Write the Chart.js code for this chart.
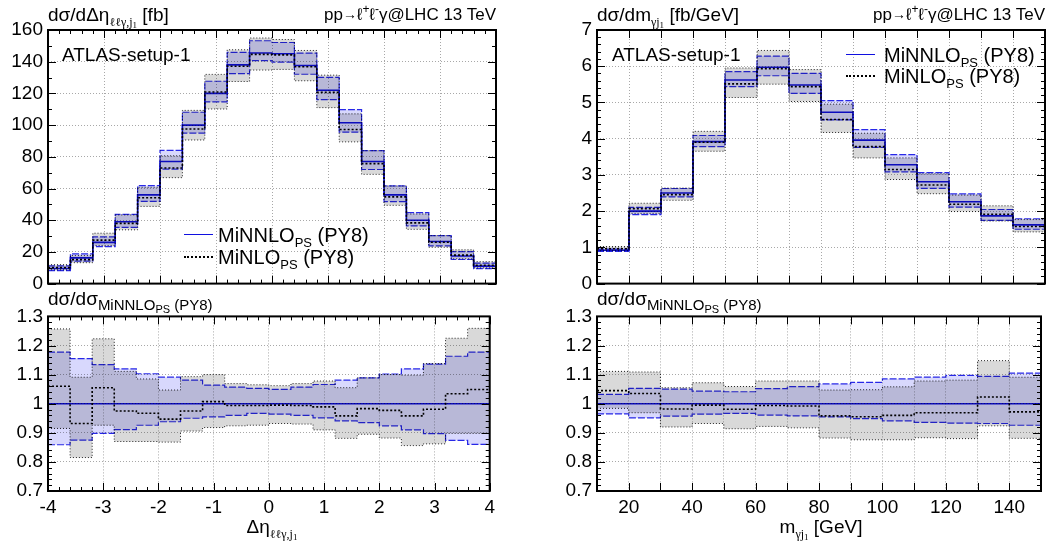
<!DOCTYPE html>
<html>
<head>
<meta charset="utf-8">
<script src="https://cdn.jsdelivr.net/npm/chart.js@4.4.1/dist/chart.umd.min.js"></script>
<style>
    body { margin: 0; background: #fff; width: 1046px; height: 547px; overflow: hidden; position: relative;
           font-family: "Liberation Sans", Arial, Helvetica, sans-serif; color: #000; }
    canvas { position: absolute; }
    .t { position: absolute; white-space: nowrap; font-size: 19px; line-height: 1; transform: translateY(-50%); }
    .r { transform: translate(-100%, -50%); }
    .c { transform: translate(-50%, -50%); }
    .s { font-size: 12px; position: relative; top: 5px; font-family: "Liberation Serif", "DejaVu Serif", serif; }
    .s .s { font-size: 9px; top: 2px; }
    .ps { font-size: 13px; position: relative; top: 5px; }
    .sp { font-size: 12px; position: relative; top: -7px; }
    .ar { font-size: 14px; position: relative; top: -1px; }
    .leg { font-size: 20px; }
    .ln { position: absolute; width: 29px; height: 0; }
</style>
</head>
<body>
<canvas id="etaTop" width="500" height="300" style="left:0;top:0"></canvas>
<canvas id="etaRatio" width="500" height="247" style="left:0;top:300px"></canvas>
<canvas id="mTop" width="496" height="300" style="left:550px;top:0"></canvas>
<canvas id="mRatio" width="496" height="247" style="left:550px;top:300px"></canvas>

<div class="t" style="left:48px;top:14px">dσ/dΔη<span class="s">ℓℓγ,j<span class="s">1</span></span> [fb]</div>
<div class="t r" style="left:496px;top:14px;font-size:17px">pp<span class="ar">→</span>ℓ<span class="sp">+</span>ℓ<span class="sp">-</span>γ@LHC 13 TeV</div>
<div class="t" style="left:62px;top:54px">ATLAS-setup-1</div>
<div class="ln" style="left:184px;top:234px;border-top:1.5px solid #1010e0"></div>
<div class="ln" style="left:184px;top:256px;border-top:2px dotted #000"></div>
<div class="t leg" style="left:218px;top:235px">MiNNLO<span class="ps">PS</span> (PY8)</div>
<div class="t leg" style="left:218px;top:257px">MiNLO<span class="ps">PS</span> (PY8)</div>
<div class="t" style="left:48px;top:298px">dσ/dσ<span class="ps" style="font-size:15px">MiNNLO<span class="ps" style="font-size:11px;top:3px">PS</span> (PY8)</span></div>
<div class="t c" style="left:272px;top:526px">Δη<span class="s">ℓℓγ,j<span class="s">1</span></span></div>

<div class="t" style="left:597px;top:14px">dσ/dm<span class="s">γj<span class="s">1</span></span> [fb/GeV]</div>
<div class="t r" style="left:1045px;top:14px;font-size:17px">pp<span class="ar">→</span>ℓ<span class="sp">+</span>ℓ<span class="sp">-</span>γ@LHC 13 TeV</div>
<div class="t" style="left:612px;top:54px">ATLAS-setup-1</div>
<div class="ln" style="left:846px;top:54px;border-top:1.5px solid #1010e0"></div>
<div class="ln" style="left:846px;top:75px;border-top:2px dotted #000"></div>
<div class="t leg" style="left:884px;top:55px">MiNNLO<span class="ps">PS</span> (PY8)</div>
<div class="t leg" style="left:884px;top:76px">MiNLO<span class="ps">PS</span> (PY8)</div>
<div class="t" style="left:597px;top:298px">dσ/dσ<span class="ps" style="font-size:15px">MiNNLO<span class="ps" style="font-size:11px;top:3px">PS</span> (PY8)</span></div>
<div class="t c" style="left:821px;top:526px">m<span class="s">γj<span class="s">1</span></span> [GeV]</div>

<script>
// Δη(ℓℓγ, j1) distribution, 20 bins of 0.4
const etaEdges = [-4, -3.6, -3.2, -2.8, -2.4, -2, -1.6, -1.2, -0.8, -0.4, 0, 0.4, 0.8, 1.2, 1.6, 2, 2.4, 2.8, 3.2, 3.6, 4];
const etaMinnlo = [9.5, 16.2, 26, 39, 56, 77, 100, 120, 138, 145.5, 145, 137.6, 122, 101.5, 77, 56, 40, 26.6, 17.4, 11];
// ratios to MiNNLO central
const etaMinnloUp = [1.177, 1.155, 1.134, 1.12, 1.103, 1.091, 1.081, 1.064, 1.057, 1.053, 1.049, 1.057, 1.066, 1.081, 1.089, 1.102, 1.12, 1.136, 1.163, 1.177];
const etaMinnloDn = [0.859, 0.875, 0.898, 0.911, 0.926, 0.938, 0.95, 0.955, 0.96, 0.967, 0.964, 0.96, 0.951, 0.941, 0.935, 0.924, 0.91, 0.897, 0.874, 0.86];
const etaMinlo = [1.06, 0.932, 1.055, 0.975, 0.967, 0.947, 0.975, 1.007, 0.994, 0.994, 0.995, 0.994, 0.989, 0.958, 0.983, 0.977, 0.958, 0.981, 1.034, 1.049];
const etaMinloUp = [1.257, 1.091, 1.223, 1.111, 1.085, 1.047, 1.093, 1.1, 1.069, 1.065, 1.062, 1.069, 1.078, 1.055, 1.089, 1.1, 1.098, 1.138, 1.225, 1.259];
const etaMinloDn = [0.915, 0.815, 0.926, 0.87, 0.87, 0.868, 0.906, 0.918, 0.924, 0.926, 0.932, 0.93, 0.91, 0.881, 0.895, 0.882, 0.856, 0.862, 0.898, 0.898];

// m(γ j1) distribution, 14 bins of 10 GeV
const mEdges = [10, 20, 30, 40, 50, 60, 70, 80, 90, 100, 110, 120, 130, 140, 150];
const mMinnlo = [0.92, 2.0, 2.5, 3.92, 5.62, 5.97, 5.48, 4.73, 3.96, 3.28, 2.81, 2.26, 1.87, 1.62];
const mMinnloUp = [1.032, 1.053, 1.05, 1.043, 1.041, 1.052, 1.059, 1.068, 1.073, 1.085, 1.091, 1.097, 1.094, 1.105];
const mMinnloDn = [0.965, 0.951, 0.957, 0.964, 0.967, 0.961, 0.958, 0.955, 0.949, 0.941, 0.936, 0.933, 0.932, 0.926];
const mMinlo = [1.045, 1.035, 0.982, 0.995, 0.981, 0.994, 0.992, 0.958, 0.955, 0.96, 0.969, 0.969, 1.023, 0.972];
const mMinloUp = [1.111, 1.109, 1.055, 1.072, 1.059, 1.078, 1.078, 1.047, 1.048, 1.058, 1.078, 1.081, 1.148, 1.091];
const mMinloDn = [0.984, 0.969, 0.92, 0.932, 0.914, 0.922, 0.917, 0.882, 0.876, 0.876, 0.883, 0.88, 0.924, 0.881];

const BLUE = '#1010e0';
const FONT = { family: '"Liberation Sans", Arial, sans-serif', size: 19 };

function stepPoints(edges, vals, fromZero) {
    const pts = vals.map((v, i) => ({ x: edges[i], y: v }));
    pts.push({ x: edges[edges.length - 1], y: vals[vals.length - 1] });
    if (fromZero) pts.unshift({ x: edges[0], y: 0 });
    return pts;
}

function scaled(base, ratio) {
    return base.map((v, i) => v * ratio[i]);
}

// bands overlap like gnuplot's transparent fills
const multiplyFills = {
    id: 'multiplyFills',
    beforeDatasetsDraw(chart) { chart.ctx.globalCompositeOperation = 'multiply'; },
    afterDatasetsDraw(chart) { chart.ctx.globalCompositeOperation = 'source-over'; }
};

// inward ticks on all four sides + frame
const frameTicks = {
    id: 'frameTicks',
    afterDatasetsDraw(chart, args, opts) {
        const { ctx, chartArea: a, scales: { x, y } } = chart;
        ctx.save();
        ctx.strokeStyle = '#000';
        ctx.lineWidth = 1;
        ctx.beginPath();
        const nx = Math.round((x.max - x.min) / opts.xMinor);
        for (let i = 0; i <= nx; i++) {
            const v = x.min + i * opts.xMinor;
            const len = Math.abs(v / opts.xMajor - Math.round(v / opts.xMajor)) < 1e-6 ? 8 : 4;
            const px = Math.round(x.getPixelForValue(v)) + 0.5;
            ctx.moveTo(px, a.bottom); ctx.lineTo(px, a.bottom - len);
            ctx.moveTo(px, a.top); ctx.lineTo(px, a.top + len);
        }
        const ny = Math.round((y.max - y.min) / opts.yMinor);
        for (let i = 0; i <= ny; i++) {
            const v = y.min + i * opts.yMinor;
            const len = Math.abs(v / opts.yMajor - Math.round(v / opts.yMajor)) < 1e-6 ? 8 : 4;
            const py = Math.round(y.getPixelForValue(v)) + 0.5;
            ctx.moveTo(a.left, py); ctx.lineTo(a.left + len, py);
            ctx.moveTo(a.right, py); ctx.lineTo(a.right - len, py);
        }
        ctx.stroke();
        ctx.lineWidth = 2;
        ctx.strokeRect(a.left, a.top, a.right - a.left, a.bottom - a.top);
        ctx.restore();
    }
};

function makePanel(id, cfg) {
    const e = cfg.edges;
    const datasets = [
        { data: stepPoints(e, cfg.central, cfg.top), borderColor: BLUE, borderWidth: 1.6 },
        { data: stepPoints(e, cfg.minlo), borderColor: '#000', borderWidth: 1.6, borderDash: [2, 2] },
        { data: stepPoints(e, cfg.minnloUp), borderColor: '#2a2ae8', borderWidth: 1.2, borderDash: [7, 2], fill: 3, backgroundColor: 'rgb(216,216,253)' },
        { data: stepPoints(e, cfg.minnloDn), borderColor: '#2a2ae8', borderWidth: 1.2, borderDash: [7, 2] },
        { data: stepPoints(e, cfg.minloUp), borderColor: '#222', borderWidth: 1, borderDash: [1, 2], fill: 5, backgroundColor: 'rgb(217,217,217)' },
        { data: stepPoints(e, cfg.minloDn), borderColor: '#222', borderWidth: 1, borderDash: [1, 2] }
    ];
    datasets.forEach(d => { d.stepped = true; d.pointRadius = 0; if (d.fill === undefined) d.fill = false; });

    return new Chart(document.getElementById(id), {
        type: 'line',
        data: { datasets: datasets },
        options: {
            responsive: false,
            animation: false,
            devicePixelRatio: 1,
            events: [],
            layout: { padding: cfg.padding },
            plugins: {
                legend: { display: false },
                tooltip: { enabled: false },
                frameTicks: cfg.ticks
            },
            scales: {
                x: {
                    type: 'linear',
                    min: e[0],
                    max: e[e.length - 1],
                    ticks: {
                        stepSize: cfg.xStep,
                        display: !cfg.top,
                        autoSkip: false,
                        maxRotation: 0,
                        padding: 5,
                        color: '#000',
                        font: FONT,
                        callback: cfg.xLabel
                    },
                    grid: { color: '#a8a8a8', lineWidth: 1, drawTicks: false },
                    border: { display: false, dash: [1, 2] },
                    afterFit: s => { s.height = cfg.xHeight; }
                },
                y: {
                    min: cfg.yMin,
                    max: cfg.yMax,
                    ticks: {
                        stepSize: cfg.yStep,
                        autoSkip: false,
                        padding: 5,
                        color: '#000',
                        font: FONT,
                        callback: v => String(+v.toFixed(1))
                    },
                    grid: { color: '#a8a8a8', lineWidth: 1, drawTicks: false },
                    border: { display: false, dash: [1, 2] },
                    afterFit: s => { s.width = cfg.yWidth; }
                }
            }
        },
        plugins: [multiplyFills, frameTicks]
    });
}

const etaLabel = v => String(v);
const mLabel = v => (v % 20 === 0 ? String(v) : '');

makePanel('etaTop', {
    edges: etaEdges, top: true,
    central: etaMinnlo, minlo: scaled(etaMinnlo, etaMinlo),
    minnloUp: scaled(etaMinnlo, etaMinnloUp), minnloDn: scaled(etaMinnlo, etaMinnloDn),
    minloUp: scaled(etaMinnlo, etaMinloUp), minloDn: scaled(etaMinnlo, etaMinloDn),
    yMin: 0, yMax: 160, yStep: 20, xStep: 1, xLabel: etaLabel,
    padding: { top: 30, right: 4, bottom: 0, left: 0 }, xHeight: 13, yWidth: 48,
    ticks: { xMinor: 0.2, xMajor: 1, yMinor: 10, yMajor: 20 }
});

makePanel('etaRatio', {
    edges: etaEdges, top: false,
    central: etaMinnlo.map(() => 1), minlo: etaMinlo,
    minnloUp: etaMinnloUp, minnloDn: etaMinnloDn,
    minloUp: etaMinloUp, minloDn: etaMinloDn,
    yMin: 0.7, yMax: 1.3, yStep: 0.1, xStep: 1, xLabel: etaLabel,
    padding: { top: 15, right: 4, bottom: 0, left: 0 }, xHeight: 56, yWidth: 48,
    ticks: { xMinor: 0.2, xMajor: 1, yMinor: 0.02, yMajor: 0.1 }
});

makePanel('mTop', {
    edges: mEdges, top: true,
    central: mMinnlo, minlo: scaled(mMinnlo, mMinlo),
    minnloUp: scaled(mMinnlo, mMinnloUp), minnloDn: scaled(mMinnlo, mMinnloDn),
    minloUp: scaled(mMinnlo, mMinloUp), minloDn: scaled(mMinnlo, mMinloDn),
    yMin: 0, yMax: 7, yStep: 1, xStep: 10, xLabel: mLabel,
    padding: { top: 30, right: 1, bottom: 0, left: 0 }, xHeight: 13, yWidth: 47,
    ticks: { xMinor: 10, xMajor: 10, yMinor: 0.2, yMajor: 1 }
});

makePanel('mRatio', {
    edges: mEdges, top: false,
    central: mMinnlo.map(() => 1), minlo: mMinlo,
    minnloUp: mMinnloUp, minnloDn: mMinnloDn,
    minloUp: mMinloUp, minloDn: mMinloDn,
    yMin: 0.7, yMax: 1.3, yStep: 0.1, xStep: 10, xLabel: mLabel,
    padding: { top: 15, right: 1, bottom: 0, left: 0 }, xHeight: 56, yWidth: 47,
    ticks: { xMinor: 10, xMajor: 10, yMinor: 0.02, yMajor: 0.1 }
});
</script>
</body>
</html>
